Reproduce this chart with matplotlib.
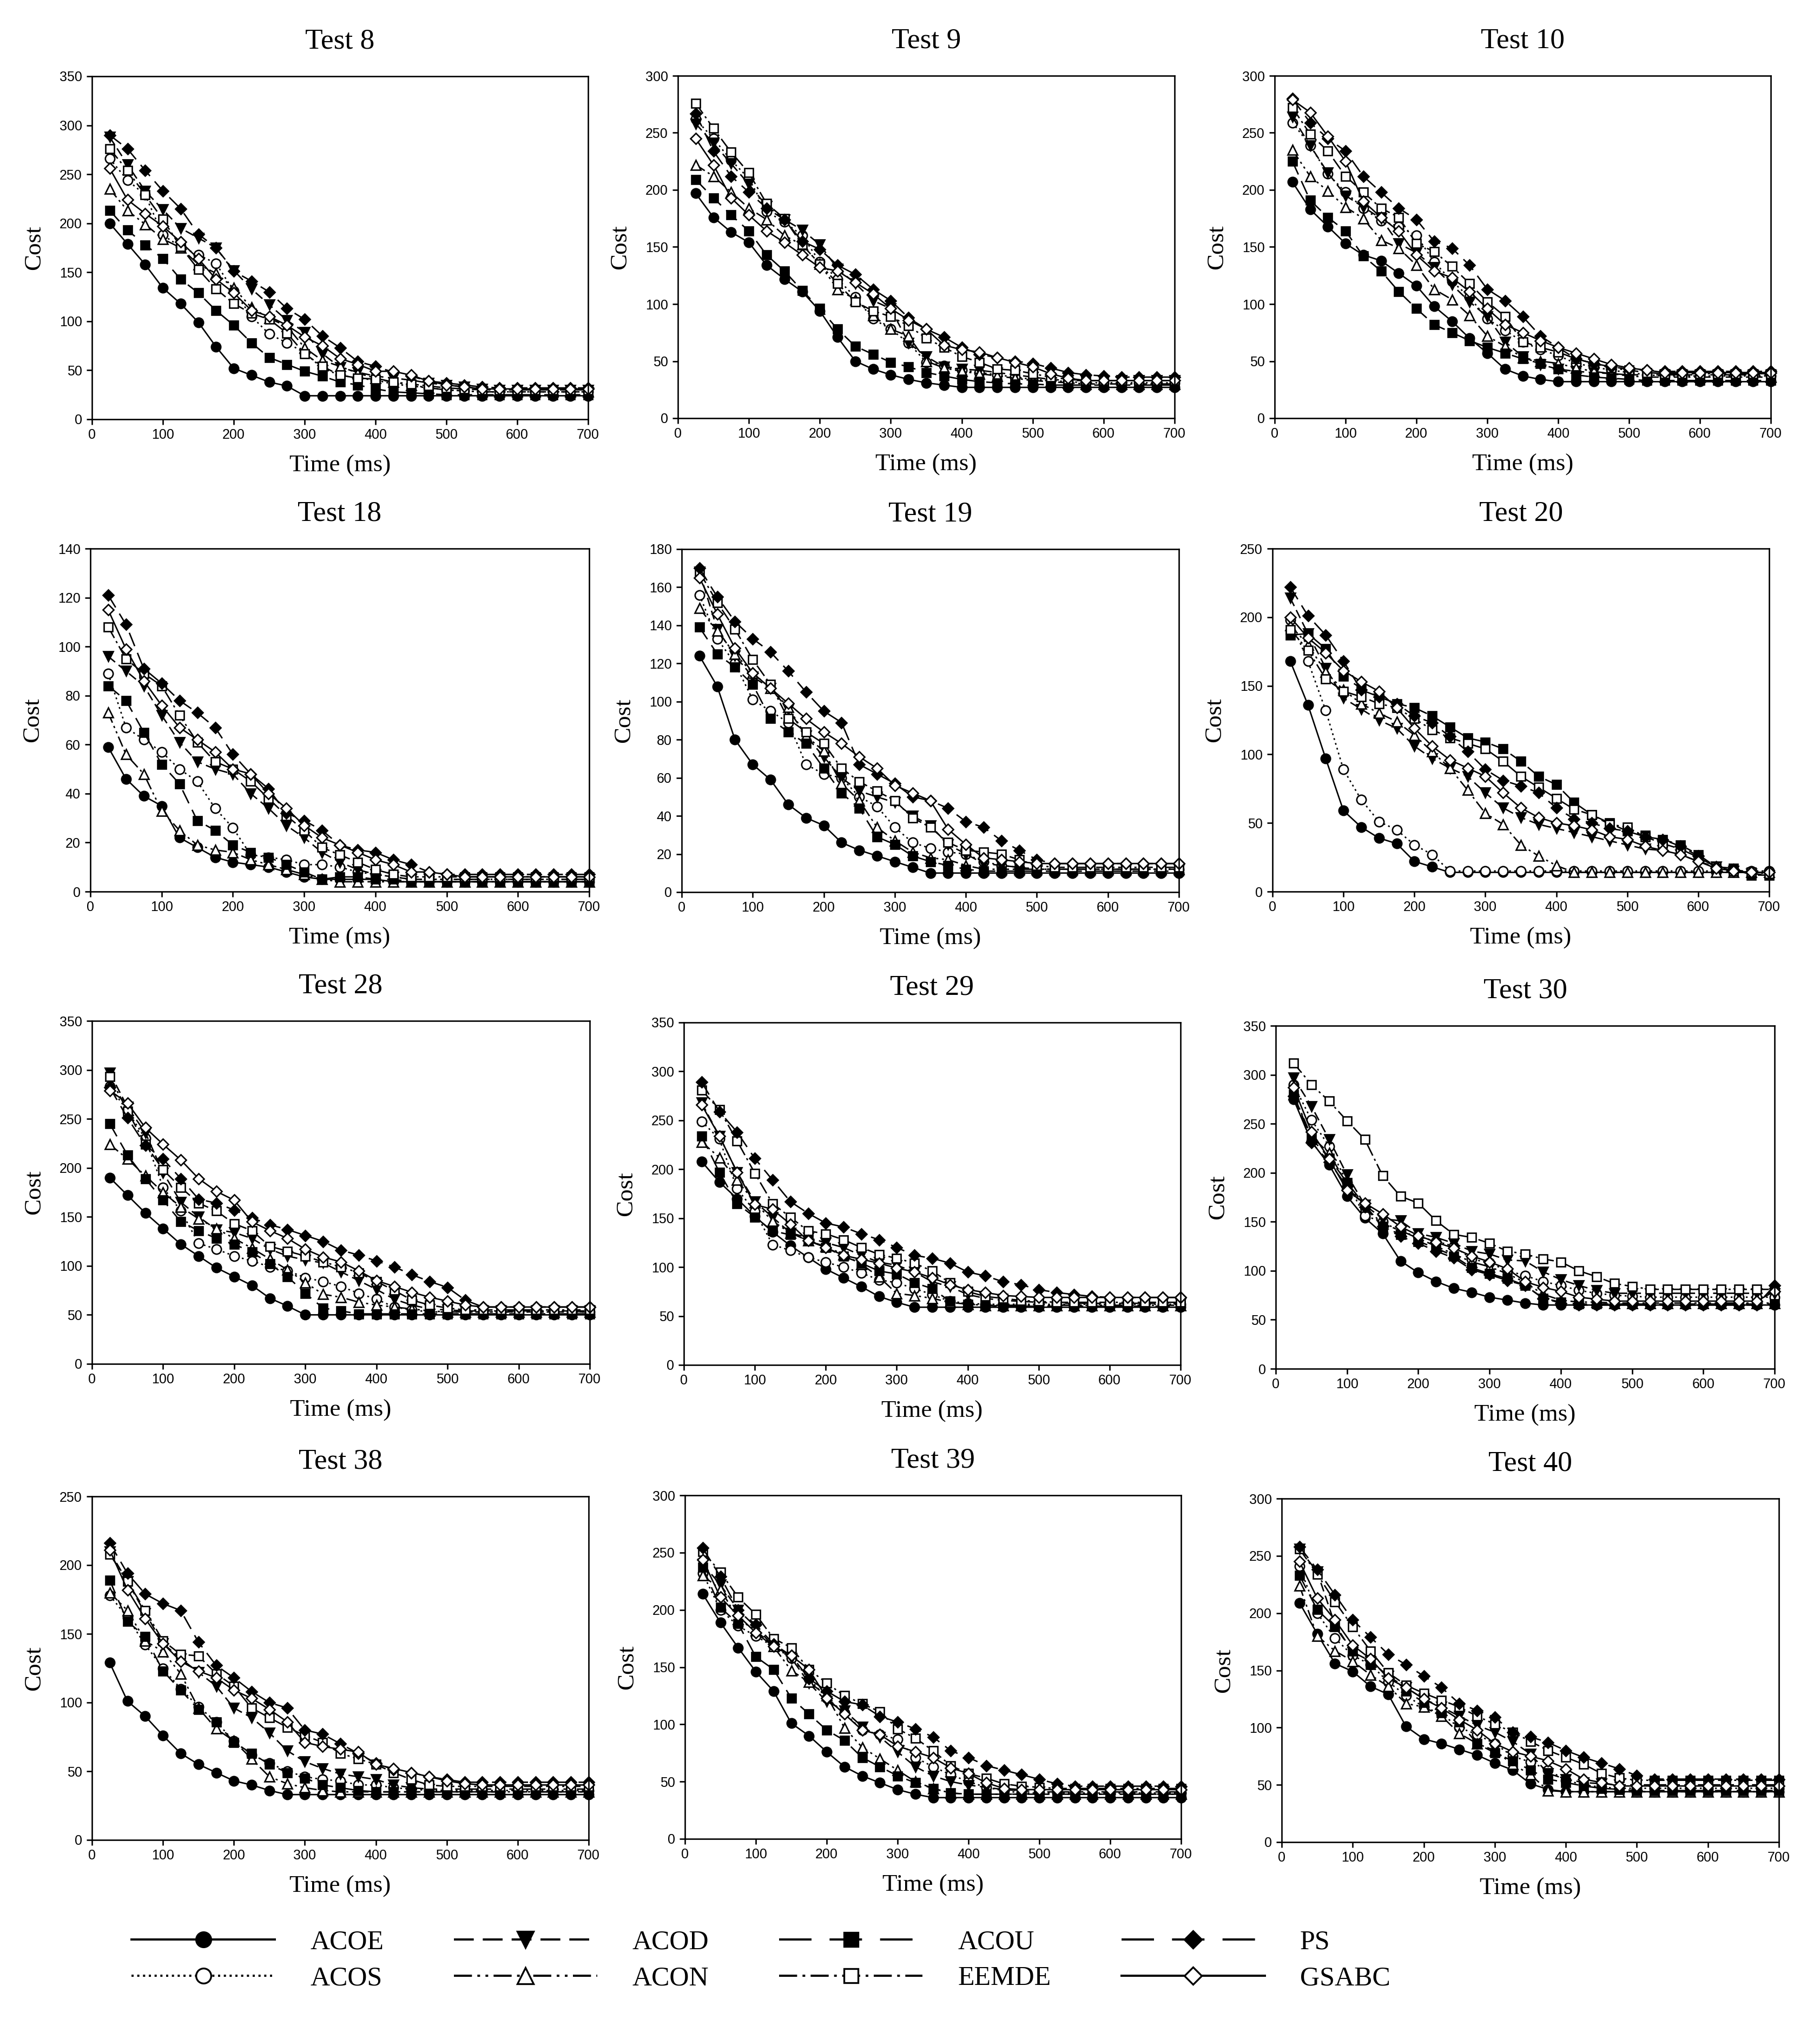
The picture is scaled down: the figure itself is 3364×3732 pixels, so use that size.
import matplotlib.pyplot as plt
from matplotlib.lines import Line2D

plt.rcParams['font.family'] = ['Liberation Serif', 'DejaVu Serif']
plt.rcParams['lines.scale_dashes'] = False

TIME = [25, 50, 75, 100, 125, 150, 175, 200, 225, 250, 275, 300, 325, 350,
        375, 400, 425, 450, 475, 500, 525, 550, 575, 600, 625, 650, 675, 700]

SERIES = ['ACOE', 'ACOS', 'ACOD', 'ACON', 'ACOU', 'EEMDE', 'PS', 'GSABC']

# ---- Test 8
T8_ACOE = [200, 179, 158, 134, 118, 99, 74, 52, 45, 38, 34, 24, 24, 24,
           24, 24, 24, 24, 24, 24, 24, 24, 24, 24, 24, 24, 24, 24]
T8_ACOS = [266, 244, 229, 188, 176, 168, 159, 131, 105, 87, 78, 68, 52, 45,
           42, 40, 36, 34, 32, 30, 29, 28, 28, 28, 28, 28, 28, 28]
T8_ACOD = [288, 260, 233, 214, 195, 185, 175, 152, 133, 117, 101, 89, 67, 53,
           48, 44, 42, 40, 37, 35, 33, 31, 30, 30, 30, 30, 30, 30]
T8_ACON = [235, 213, 199, 184, 175, 158, 149, 134, 114, 103, 95, 73, 60, 54,
           47, 42, 38, 35, 32, 30, 29, 28, 28, 28, 28, 28, 28, 28]
T8_ACOU = [213, 193, 178, 164, 143, 129, 111, 96, 78, 63, 56, 49, 44, 38,
           35, 31, 28, 27, 26, 25, 25, 25, 25, 25, 25, 25, 25, 25]
T8_EEMDE = [276, 254, 229, 204, 176, 153, 133, 118, 108, 102, 88, 67, 54, 45,
            42, 41, 38, 36, 34, 32, 31, 30, 30, 30, 30, 30, 30, 30]
T8_PS = [290, 276, 254, 233, 215, 189, 175, 151, 141, 130, 113, 102, 85, 73,
         59, 54, 48, 44, 39, 37, 35, 33, 32, 32, 32, 32, 32, 32]
T8_GSABC = [256, 224, 210, 197, 181, 164, 143, 129, 111, 105, 96, 84, 75, 62,
            56, 49, 49, 45, 39, 35, 33, 31, 31, 31, 31, 31, 31, 31]

# ---- Test 9
T9_ACOE = [197, 176, 163, 154, 134, 122, 111, 94, 71, 50, 43, 38, 34, 31,
           29, 27, 27, 27, 27, 27, 27, 27, 27, 27, 27, 27, 27, 27]
T9_ACOS = [262, 245, 226, 210, 181, 172, 160, 137, 122, 106, 87, 78, 66, 49,
           46, 42, 40, 38, 36, 34, 33, 32, 31, 31, 31, 31, 31, 31]
T9_ACOD = [258, 241, 223, 205, 186, 174, 165, 152, 131, 118, 103, 96, 66, 54,
           45, 43, 42, 40, 38, 36, 34, 33, 33, 33, 33, 33, 33, 33]
T9_ACON = [222, 212, 198, 184, 174, 160, 152, 135, 113, 104, 90, 78, 72, 50,
           44, 41, 39, 37, 35, 33, 32, 31, 30, 30, 30, 30, 30, 30]
T9_ACOU = [209, 193, 178, 164, 143, 129, 112, 96, 78, 63, 56, 49, 45, 40,
           37, 34, 32, 31, 30, 30, 29, 29, 29, 29, 29, 29, 29, 29]
T9_EEMDE = [276, 254, 233, 215, 188, 175, 152, 135, 118, 102, 94, 89, 81, 70,
            62, 54, 49, 43, 42, 39, 36, 34, 33, 33, 33, 33, 33, 33]
T9_PS = [267, 234, 212, 198, 184, 174, 155, 148, 134, 126, 113, 103, 88, 78,
         71, 62, 56, 53, 50, 48, 44, 40, 38, 37, 36, 36, 36, 36]
T9_GSABC = [245, 222, 193, 178, 164, 154, 143, 132, 129, 119, 109, 96, 86, 78,
            64, 60, 58, 53, 49, 45, 39, 35, 33, 33, 33, 33, 33, 33]

# ---- Test 10
T10_ACOE = [207, 183, 168, 153, 143, 138, 127, 116, 98, 85, 70, 57, 43, 37,
            34, 32, 32, 32, 32, 32, 32, 32, 32, 32, 32, 32, 32, 32]
T10_ACOS = [259, 239, 214, 198, 184, 173, 168, 160, 137, 120, 106, 87, 77, 67,
            60, 55, 48, 45, 42, 40, 38, 37, 37, 37, 37, 37, 37, 37]
T10_ACOD = [264, 239, 215, 195, 185, 175, 153, 145, 132, 117, 102, 89, 67, 54,
            47, 43, 41, 40, 39, 38, 38, 38, 38, 38, 38, 38, 38, 38]
T10_ACON = [235, 212, 199, 185, 175, 156, 149, 134, 113, 104, 90, 72, 63, 53,
            50, 48, 44, 41, 39, 37, 36, 36, 36, 36, 36, 36, 36, 36]
T10_ACOU = [225, 191, 176, 164, 142, 129, 111, 96, 82, 75, 68, 62, 57, 52,
            48, 43, 38, 36, 35, 34, 33, 33, 33, 33, 33, 33, 33, 33]
T10_EEMDE = [272, 249, 234, 212, 198, 184, 176, 153, 146, 133, 118, 102, 89, 67,
             62, 58, 52, 48, 44, 42, 40, 39, 39, 39, 39, 39, 39, 39]
T10_PS = [280, 259, 245, 234, 212, 198, 184, 174, 155, 149, 134, 113, 103, 89,
          72, 62, 52, 48, 45, 43, 42, 41, 41, 41, 41, 41, 41, 41]
T10_GSABC = [279, 268, 247, 225, 190, 176, 164, 143, 129, 123, 111, 96, 82, 75,
             68, 62, 57, 52, 47, 44, 42, 40, 40, 40, 40, 40, 40, 40]

# ---- Test 18
T18_ACOE = [59, 46, 39, 35, 22, 18, 14, 12, 11, 10, 8, 6, 5, 5,
            5, 5, 4, 4, 4, 4, 4, 4, 4, 4, 4, 4, 4, 4]
T18_ACOS = [89, 67, 62, 57, 50, 45, 34, 26, 15, 14, 13, 11, 11, 10,
            8, 7, 6, 5, 5, 5, 5, 5, 5, 5, 5, 5, 5, 5]
T18_ACOD = [96, 90, 84, 72, 61, 53, 50, 48, 40, 34, 27, 22, 16, 12,
            9, 7, 6, 5, 5, 5, 5, 5, 5, 5, 5, 5, 5, 5]
T18_ACON = [73, 56, 48, 33, 25, 19, 17, 16, 13, 11, 9, 7, 5, 4,
            4, 4, 4, 4, 4, 4, 4, 4, 4, 4, 4, 4, 4, 4]
T18_ACOU = [84, 78, 65, 52, 44, 29, 25, 19, 16, 14, 11, 8, 5, 6,
            6, 5, 5, 4, 4, 4, 4, 4, 4, 4, 4, 4, 4, 4]
T18_EEMDE = [108, 95, 89, 84, 72, 61, 53, 50, 45, 38, 31, 25, 18, 15,
             12, 9, 7, 6, 6, 6, 6, 6, 6, 6, 6, 6, 6, 6]
T18_PS = [121, 109, 91, 85, 78, 73, 67, 56, 48, 42, 32, 29, 25, 19,
          17, 16, 13, 11, 8, 7, 7, 7, 7, 7, 7, 7, 7, 7]
T18_GSABC = [115, 99, 86, 76, 67, 62, 57, 50, 48, 40, 34, 27, 22, 19,
             16, 13, 11, 8, 8, 7, 6, 6, 6, 6, 6, 6, 6, 6]

# ---- Test 19
T19_ACOE = [124, 108, 80, 67, 59, 46, 39, 35, 26, 22, 19, 16, 13, 10,
            10, 10, 10, 10, 10, 10, 10, 10, 10, 10, 10, 10, 10, 10]
T19_ACOS = [156, 133, 120, 101, 95, 89, 67, 62, 60, 50, 45, 34, 26, 23,
            21, 20, 16, 14, 13, 12, 12, 12, 12, 12, 12, 12, 12, 12]
T19_ACOD = [168, 138, 124, 113, 107, 96, 82, 71, 60, 53, 50, 47, 40, 35,
            25, 20, 15, 14, 13, 12, 12, 12, 12, 12, 12, 12, 12, 12]
T19_ACON = [149, 137, 125, 115, 107, 97, 82, 74, 57, 48, 34, 27, 21, 18,
            17, 14, 12, 12, 12, 12, 12, 12, 12, 12, 12, 12, 12, 12]
T19_ACOU = [139, 125, 118, 109, 91, 84, 78, 65, 52, 44, 29, 25, 19, 16,
            14, 12, 11, 11, 11, 11, 11, 11, 11, 11, 11, 11, 11, 11]
T19_EEMDE = [168, 152, 138, 122, 109, 91, 84, 78, 65, 58, 53, 48, 39, 34,
             26, 22, 21, 20, 17, 14, 13, 13, 13, 13, 13, 13, 13, 13]
T19_PS = [170, 155, 142, 133, 126, 116, 105, 95, 89, 67, 62, 57, 50, 48,
          44, 37, 34, 27, 22, 17, 15, 15, 15, 15, 15, 15, 15, 15]
T19_GSABC = [165, 146, 128, 115, 107, 99, 91, 84, 78, 71, 65, 56, 52, 48,
             33, 25, 18, 17, 16, 15, 15, 15, 15, 15, 15, 15, 15, 15]

# ---- Test 20
T20_ACOE = [168, 136, 97, 59, 47, 39, 35, 22, 18, 14, 14, 14, 14, 14,
            14, 14, 14, 14, 14, 14, 14, 14, 14, 14, 14, 14, 14, 14]
T20_ACOS = [198, 168, 132, 89, 67, 51, 45, 34, 27, 15, 15, 15, 15, 15,
            15, 15, 15, 15, 15, 15, 15, 15, 15, 15, 15, 15, 15, 15]
T20_ACOD = [214, 188, 163, 141, 133, 125, 119, 106, 97, 90, 84, 72, 61, 54,
            49, 46, 43, 40, 37, 34, 31, 30, 27, 22, 18, 15, 13, 12]
T20_ACON = [194, 180, 160, 147, 137, 130, 124, 114, 102, 90, 74, 57, 49, 34,
            26, 19, 14, 14, 14, 14, 14, 14, 14, 14, 14, 14, 14, 14]
T20_ACOU = [187, 188, 177, 157, 148, 142, 137, 134, 128, 120, 112, 109, 104, 95,
            84, 78, 65, 56, 50, 44, 41, 38, 34, 27, 18, 17, 12, 12]
T20_EEMDE = [191, 176, 155, 146, 142, 137, 134, 126, 118, 112, 108, 104, 95, 84,
             76, 68, 60, 56, 49, 47, 40, 35, 31, 25, 18, 15, 14, 13]
T20_PS = [222, 201, 187, 168, 147, 142, 137, 128, 123, 113, 102, 89, 81, 77,
          72, 61, 53, 50, 46, 44, 40, 38, 33, 26, 18, 16, 14, 14]
T20_GSABC = [200, 185, 174, 161, 153, 146, 134, 119, 106, 96, 90, 84, 72, 61,
             54, 50, 48, 45, 40, 38, 33, 30, 27, 22, 17, 15, 14, 14]

# ---- Test 28
T28_ACOE = [190, 172, 154, 138, 122, 110, 98, 89, 80, 67, 59, 50, 50, 50,
            50, 50, 50, 50, 50, 50, 50, 50, 50, 50, 50, 50, 50, 50]
T28_ACOS = [283, 258, 230, 180, 156, 123, 117, 110, 105, 99, 95, 88, 84, 79,
            72, 66, 58, 55, 53, 53, 53, 53, 53, 53, 53, 53, 53, 53]
T28_ACOD = [297, 262, 236, 195, 165, 150, 137, 134, 128, 117, 110, 106, 103, 94,
            85, 76, 66, 60, 56, 55, 54, 54, 54, 54, 54, 54, 54, 54]
T28_ACON = [224, 209, 192, 175, 160, 148, 138, 128, 118, 107, 96, 83, 71, 68,
            63, 60, 58, 56, 54, 53, 53, 53, 53, 53, 53, 53, 53, 53]
T28_ACOU = [245, 213, 189, 167, 145, 136, 128, 122, 114, 102, 89, 72, 57, 54,
            51, 51, 51, 51, 51, 51, 51, 51, 51, 51, 51, 51, 51, 51]
T28_EEMDE = [293, 258, 224, 198, 180, 164, 156, 143, 136, 120, 115, 110, 104, 99,
             93, 84, 75, 65, 60, 57, 55, 55, 55, 55, 55, 55, 55, 55]
T28_PS = [282, 251, 223, 209, 189, 168, 164, 157, 149, 142, 137, 131, 125, 116,
          111, 105, 99, 91, 84, 78, 65, 58, 58, 58, 58, 58, 58, 58]
T28_GSABC = [279, 266, 241, 224, 208, 189, 176, 167, 145, 136, 128, 117, 109, 104,
             95, 85, 79, 73, 68, 64, 60, 58, 58, 58, 58, 58, 58, 58]

# ---- Test 29
T29_ACOE = [208, 187, 170, 152, 136, 122, 110, 98, 89, 80, 70, 64, 59, 59,
            59, 59, 59, 59, 59, 59, 59, 59, 59, 59, 59, 59, 59, 59]
T29_ACOS = [249, 231, 180, 157, 123, 117, 110, 105, 100, 94, 87, 84, 78, 72,
            65, 63, 62, 62, 62, 62, 62, 62, 62, 62, 62, 62, 62, 62]
T29_ACOD = [268, 234, 197, 167, 151, 135, 130, 125, 120, 112, 105, 102, 95, 85,
            80, 72, 68, 66, 65, 64, 63, 63, 63, 63, 63, 63, 63, 63]
T29_ACON = [228, 212, 189, 166, 147, 135, 127, 121, 113, 103, 90, 73, 71, 68,
            64, 62, 61, 61, 61, 61, 61, 61, 61, 61, 61, 61, 61, 61]
T29_ACOU = [234, 197, 165, 151, 137, 133, 128, 120, 111, 104, 96, 93, 84, 78,
            65, 62, 61, 60, 60, 60, 60, 60, 60, 60, 60, 60, 60, 60]
T29_EEMDE = [281, 261, 229, 196, 165, 151, 137, 134, 128, 120, 113, 109, 104, 96,
             84, 75, 70, 68, 66, 65, 64, 64, 64, 64, 64, 64, 64, 64]
T29_PS = [289, 259, 238, 211, 189, 167, 155, 145, 141, 134, 128, 120, 112, 109,
          104, 95, 91, 85, 82, 77, 74, 72, 70, 69, 69, 69, 69, 69]
T29_GSABC = [266, 234, 197, 164, 159, 144, 127, 120, 112, 108, 104, 99, 95, 89,
             82, 77, 74, 71, 70, 69, 69, 69, 69, 69, 69, 69, 69, 69]

# ---- Test 30
T30_ACOE = [275, 232, 208, 176, 154, 138, 110, 98, 89, 82, 78, 73, 70, 67,
            65, 65, 65, 65, 65, 65, 65, 65, 65, 65, 65, 65, 65, 65]
T30_ACOS = [290, 254, 227, 190, 156, 150, 140, 135, 130, 125, 112, 108, 100, 95,
            89, 85, 80, 77, 75, 74, 73, 73, 73, 73, 73, 73, 73, 73]
T30_ACOD = [297, 268, 234, 198, 167, 153, 151, 138, 134, 128, 120, 117, 111, 110,
            99, 91, 85, 80, 77, 77, 77, 77, 77, 77, 77, 77, 77, 77]
T30_ACON = [280, 237, 220, 188, 165, 148, 141, 133, 125, 117, 109, 104, 97, 88,
            76, 70, 68, 68, 67, 67, 67, 67, 67, 67, 67, 67, 67, 67]
T30_ACOU = [280, 235, 215, 190, 167, 145, 137, 130, 123, 115, 103, 97, 92, 85,
            72, 68, 66, 66, 66, 66, 66, 66, 66, 66, 66, 66, 66, 66]
T30_EEMDE = [312, 290, 273, 253, 234, 197, 176, 169, 151, 137, 134, 128, 120, 117,
             112, 109, 100, 94, 87, 84, 81, 81, 81, 81, 81, 81, 81, 81]
T30_PS = [278, 231, 211, 186, 165, 145, 135, 128, 120, 113, 101, 96, 90, 85,
          72, 67, 65, 65, 65, 65, 65, 65, 65, 65, 65, 65, 65, 85]
T30_GSABC = [287, 242, 214, 182, 169, 158, 145, 136, 129, 123, 115, 109, 102, 89,
             83, 79, 73, 71, 69, 69, 69, 69, 69, 69, 69, 69, 69, 79]

# ---- Test 38
T38_ACOE = [129, 101, 90, 76, 63, 55, 49, 43, 40, 36, 33, 33, 33, 33,
            33, 33, 33, 33, 33, 33, 33, 33, 33, 33, 33, 33, 33, 33]
T38_ACOS = [178, 162, 142, 125, 110, 97, 86, 72, 62, 56, 50, 46, 44, 43,
            40, 40, 38, 37, 36, 36, 36, 36, 36, 36, 36, 36, 36, 36]
T38_ACOD = [210, 188, 165, 143, 132, 122, 112, 96, 89, 78, 65, 57, 52, 48,
            46, 44, 40, 38, 37, 37, 37, 37, 37, 37, 37, 37, 37, 37]
T38_ACON = [180, 167, 145, 137, 121, 96, 81, 72, 59, 46, 41, 38, 36, 35,
            35, 35, 35, 35, 35, 35, 35, 35, 35, 35, 35, 35, 35, 35]
T38_ACOU = [189, 159, 148, 123, 109, 95, 86, 71, 63, 55, 49, 45, 40, 38,
            36, 35, 35, 35, 35, 35, 35, 35, 35, 35, 35, 35, 35, 35]
T38_EEMDE = [208, 188, 167, 145, 135, 134, 121, 112, 96, 89, 82, 76, 71, 63,
             59, 55, 49, 44, 40, 39, 39, 39, 39, 39, 39, 39, 39, 39]
T38_PS = [216, 194, 179, 172, 167, 144, 127, 118, 108, 100, 96, 80, 77, 70,
          63, 56, 51, 49, 46, 44, 42, 42, 42, 42, 42, 42, 42, 42]
T38_GSABC = [211, 182, 161, 143, 130, 123, 118, 109, 103, 95, 86, 71, 68, 66,
             64, 55, 52, 49, 46, 43, 41, 40, 40, 40, 40, 40, 40, 40]

# ---- Test 39
T39_ACOE = [214, 189, 167, 146, 129, 101, 90, 76, 63, 55, 49, 43, 39, 36,
            36, 36, 36, 36, 36, 36, 36, 36, 36, 36, 36, 36, 36, 36]
T39_ACOS = [232, 200, 186, 177, 168, 158, 140, 123, 110, 95, 91, 87, 71, 63,
            56, 50, 45, 42, 40, 40, 40, 40, 40, 40, 40, 40, 40, 40]
T39_ACOD = [240, 222, 200, 185, 168, 158, 136, 120, 112, 98, 89, 76, 63, 55,
            50, 47, 45, 43, 42, 41, 41, 41, 41, 41, 41, 41, 41, 41]
T39_ACON = [230, 218, 192, 182, 168, 147, 137, 125, 97, 80, 70, 60, 50, 44,
            40, 39, 39, 39, 39, 39, 39, 39, 39, 39, 39, 39, 39, 39]
T39_ACOU = [237, 202, 188, 159, 148, 123, 109, 95, 86, 71, 63, 55, 49, 44,
            40, 39, 39, 39, 39, 39, 39, 39, 39, 39, 39, 39, 39, 39]
T39_EEMDE = [251, 233, 211, 196, 175, 167, 148, 136, 125, 118, 111, 96, 88, 77,
             64, 57, 53, 48, 46, 45, 44, 44, 44, 44, 44, 44, 44, 44]
T39_PS = [254, 229, 200, 187, 170, 160, 140, 129, 120, 117, 107, 102, 96, 89,
          77, 71, 64, 60, 56, 52, 48, 46, 46, 46, 46, 46, 46, 46]
T39_GSABC = [244, 211, 195, 180, 168, 160, 148, 123, 109, 95, 91, 81, 76, 71,
             62, 57, 49, 44, 43, 43, 43, 43, 43, 43, 43, 43, 43, 43]

# ---- Test 40
T40_ACOE = [209, 182, 156, 149, 136, 129, 101, 90, 86, 81, 76, 69, 63, 51,
            46, 44, 44, 44, 44, 44, 44, 44, 44, 44, 44, 44, 44, 44]
T40_ACOS = [241, 200, 178, 163, 155, 140, 128, 118, 112, 100, 94, 86, 75, 70,
            63, 54, 50, 48, 47, 47, 47, 47, 47, 47, 47, 47, 47, 47]
T40_ACOD = [256, 236, 190, 166, 158, 145, 135, 125, 118, 110, 102, 96, 88, 77,
            60, 55, 52, 51, 50, 50, 50, 50, 50, 50, 50, 50, 50, 50]
T40_ACON = [224, 180, 167, 158, 146, 136, 121, 118, 110, 95, 86, 80, 68, 59,
            45, 44, 44, 44, 44, 44, 44, 44, 44, 44, 44, 44, 44, 44]
T40_ACOU = [233, 203, 188, 167, 155, 148, 132, 122, 113, 105, 86, 78, 71, 63,
            55, 52, 49, 47, 46, 45, 45, 45, 45, 45, 45, 45, 45, 45]
T40_EEMDE = [256, 234, 210, 188, 167, 148, 137, 130, 124, 118, 110, 103, 96, 88,
             80, 74, 68, 60, 56, 54, 54, 54, 54, 54, 54, 54, 54, 54]
T40_PS = [258, 238, 216, 194, 179, 164, 155, 145, 135, 121, 115, 109, 96, 92,
          87, 80, 74, 69, 64, 58, 55, 55, 55, 55, 55, 55, 55, 55]
T40_GSABC = [245, 213, 194, 172, 160, 143, 135, 125, 117, 107, 98, 86, 79, 75,
             71, 64, 55, 52, 49, 49, 49, 49, 49, 49, 49, 49, 49, 49]

T8 = [T8_ACOE, T8_ACOS, T8_ACOD, T8_ACON, T8_ACOU, T8_EEMDE, T8_PS, T8_GSABC]
T9 = [T9_ACOE, T9_ACOS, T9_ACOD, T9_ACON, T9_ACOU, T9_EEMDE, T9_PS, T9_GSABC]
T10 = [T10_ACOE, T10_ACOS, T10_ACOD, T10_ACON, T10_ACOU, T10_EEMDE, T10_PS, T10_GSABC]
T18 = [T18_ACOE, T18_ACOS, T18_ACOD, T18_ACON, T18_ACOU, T18_EEMDE, T18_PS, T18_GSABC]
T19 = [T19_ACOE, T19_ACOS, T19_ACOD, T19_ACON, T19_ACOU, T19_EEMDE, T19_PS, T19_GSABC]
T20 = [T20_ACOE, T20_ACOS, T20_ACOD, T20_ACON, T20_ACOU, T20_EEMDE, T20_PS, T20_GSABC]
T28 = [T28_ACOE, T28_ACOS, T28_ACOD, T28_ACON, T28_ACOU, T28_EEMDE, T28_PS, T28_GSABC]
T29 = [T29_ACOE, T29_ACOS, T29_ACOD, T29_ACON, T29_ACOU, T29_EEMDE, T29_PS, T29_GSABC]
T30 = [T30_ACOE, T30_ACOS, T30_ACOD, T30_ACON, T30_ACOU, T30_EEMDE, T30_PS, T30_GSABC]
T38 = [T38_ACOE, T38_ACOS, T38_ACOD, T38_ACON, T38_ACOU, T38_EEMDE, T38_PS, T38_GSABC]
T39 = [T39_ACOE, T39_ACOS, T39_ACOD, T39_ACON, T39_ACOU, T39_EEMDE, T39_PS, T39_GSABC]
T40 = [T40_ACOE, T40_ACOS, T40_ACOD, T40_ACON, T40_ACOU, T40_EEMDE, T40_PS, T40_GSABC]

# title, curves, y max, y step, axes box in pixels (left, top, right, bottom)
PANELS = [
    ('Test 8', T8, 350, 50, (170, 141, 1087, 775)),
    ('Test 9', T9, 300, 50, (1253, 140, 2171, 773)),
    ('Test 10', T10, 300, 50, (2356, 140, 3273, 773)),
    ('Test 18', T18, 140, 20, (167, 1014, 1089, 1648)),
    ('Test 19', T19, 180, 20, (1260, 1015, 2179, 1649)),
    ('Test 20', T20, 250, 50, (2352, 1014, 3270, 1648)),
    ('Test 28', T28, 350, 50, (170, 1887, 1090, 2521)),
    ('Test 29', T29, 350, 50, (1264, 1890, 2182, 2523)),
    ('Test 30', T30, 350, 50, (2358, 1896, 3280, 2530)),
    ('Test 38', T38, 250, 50, (170, 2766, 1088, 3401)),
    ('Test 39', T39, 300, 50, (1266, 2764, 2183, 3399)),
    ('Test 40', T40, 300, 50, (2369, 2770, 3288, 3405)),
]

# linestyle, marker, face colour, marker size (plot), dash for legend
STYLES = {
    'ACOE':  ('-', 'o', 'black', 5.2, '-'),
    'ACOS':  ((0, (1, 1.8)), 'o', 'white', 5.2, (0, (1.2, 2))),
    'ACOD':  ((0, (5, 2.5)), 'v', 'black', 5.5, (0, (11, 5))),
    'ACON':  ((0, (6, 2, 1.2, 2, 1.2, 2)), '^', 'white', 5.5, (0, (10, 3, 1.5, 3, 1.5, 3))),
    'ACOU':  ((0, (8, 4)), 's', 'black', 4.8, (0, (18, 10))),
    'EEMDE': ((0, (7, 2, 1.2, 2)), 's', 'white', 4.8, (0, (10, 3, 1.5, 3))),
    'PS':    ((0, (8, 4)), 'D', 'black', 4.2, (0, (18, 10))),
    'GSABC': ('-', 'D', 'white', 4.2, '-'),
}

W, H = 3364, 3732
fig = plt.figure(figsize=(W / 240, H / 240), dpi=240)

for title, curves, ymax, ystep, box in PANELS:
    x0, y0, x1, y1 = box
    ax = fig.add_axes([x0 / W, 1 - y1 / H, (x1 - x0) / W, (y1 - y0) / H])
    for name, vals in zip(SERIES, curves):
        ls, mk, fc, ms, _ = STYLES[name]
        ax.plot(TIME, vals, color='black', lw=0.8, ls=ls, marker=mk, mfc=fc,
                mec='black', ms=ms, mew=0.8, clip_on=False)
    ax.set_xlim(0, 700)
    ax.set_ylim(0, ymax)
    ax.set_xticks(range(0, 701, 100))
    ax.set_yticks(range(0, ymax + 1, ystep))
    ax.tick_params(axis='both', direction='out', length=3, width=0.8,
                   labelsize=7.5, labelfontfamily='Liberation Sans')
    ax.tick_params(axis='x', pad=2)
    ax.tick_params(axis='y', pad=2.5)
    for sp in ax.spines.values():
        sp.set_linewidth(0.8)
    ax.set_title(title, fontsize=16, pad=15.5)
    ax.set_xlabel('Time (ms)', fontsize=13.5, labelpad=7.5)
    ax.set_ylabel('Cost', fontsize=13.5, labelpad=8)

handles = []
for name in SERIES:
    ls, mk, fc, ms, lls = STYLES[name]
    handles.append(Line2D([], [], color='black', lw=1.2, ls=lls, marker=mk,
                          mfc=fc, mec='black', ms=ms * 1.6, mew=1.0))

fig.legend(handles, SERIES, loc='center', bbox_to_anchor=(0.418, 0.029),
           ncol=4, frameon=False, fontsize=15, numpoints=1, handlelength=5.3,
           handletextpad=1.3, columnspacing=2.6, labelspacing=0.4)

fig.savefig('out.png', dpi=240)
